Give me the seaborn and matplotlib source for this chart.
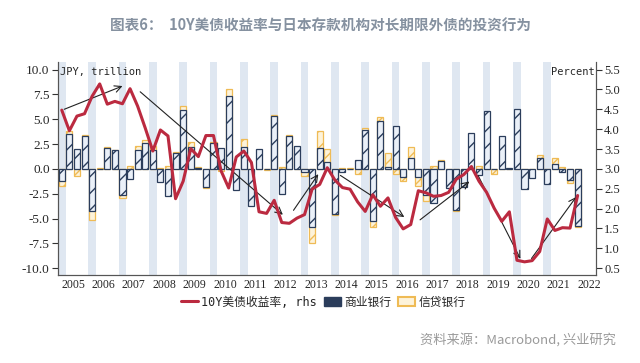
import numpy as np
import pandas as pd
import matplotlib
matplotlib.use('Agg')
import matplotlib.pyplot as plt
from matplotlib.lines import Line2D
from matplotlib.patches import Patch
import seaborn as sns

# quarterly data, 2005Q1 - 2022Q1
quarters = [f"{y}Q{q}" for y in range(2005, 2023) for q in range(1, 5)][:69]

# 商业银行 net purchases, JPY trillion
commercial = [-1.2, 3.5, 2.0, 3.3, -4.2, 0.0, 2.1, 1.9, -2.6, -1.0, 1.9, 2.6,
              1.9, -1.3, -2.7, 1.6, 5.9, 2.2, 0.1, -1.85, 2.6, 2.1, 7.3, -2.1,
              2.2, -3.7, 2.0, 0.0, 5.3, -2.5, 3.3, 2.3, -0.3, -5.9, 2.1, 0.7,
              -4.5, -0.3, 0.0, 0.9, 3.9, -5.2, 4.8, 0.2, 4.3, -0.8, 1.1, -0.85,
              -2.6, -3.4, 0.8, -1.9, -4.1, -1.8, 3.6, -0.6, 5.8, -0.05, 3.3, 0.05,
              6.0, -2.0, -0.9, 1.1, -1.5, 0.5, -0.35, -1.1, -5.7]

# 信贷银行 net purchases, JPY trillion
trust = [-0.5, 0.3, -0.7, 0.1, -0.9, 0.05, 0.1, 0.05, -0.3, 0.3, 0.4, 0.3,
         0.4, 0.1, 0.3, 0.1, 0.4, 0.5, 0.1, -0.1, 0.1, -0.2, 0.7, 0.0,
         0.8, 0.0, 0.0, -0.15, 0.1, 0.15, 0.1, 0.0, -0.4, -1.6, 1.7, 1.3,
         -0.1, 0.1, 0.05, -0.5, 0.2, -0.6, 0.4, 1.4, -0.5, -0.45, 1.1, -0.85,
         -0.6, 0.3, 0.1, 0.0, -0.1, 0.0, 0.0, 0.3, 0.0, -0.45, 0.0, 0.0,
         0.0, 0.0, 0.0, 0.3, 0.0, 0.6, 0.2, -0.35, -0.2]

# 10Y US treasury yield, percent (rhs)
ust10y = [4.48, 3.96, 4.33, 4.39, 4.83, 5.14, 4.63, 4.70, 4.64, 5.02, 4.58, 4.03,
          3.45, 3.98, 3.83, 2.25, 2.69, 3.51, 3.31, 3.84, 3.84, 2.95, 2.52, 3.30,
          3.45, 3.16, 1.92, 1.88, 2.21, 1.65, 1.63, 1.76, 1.85, 2.49, 2.61, 3.03,
          2.72, 2.53, 2.49, 2.17, 1.93, 2.35, 2.06, 2.27, 1.78, 1.49, 1.60, 2.45,
          2.40, 2.31, 2.33, 2.41, 2.74, 2.86, 3.06, 2.69, 2.41, 2.01, 1.68, 1.92,
          0.70, 0.66, 0.69, 0.92, 1.74, 1.45, 1.52, 1.51, 2.33]

year_labels = [str(y) for y in range(2005, 2023)]

# trend arrows: (year, lhs value) -> (year, lhs value)
trend_arrows = [
    ((2005.12, 5.9), (2007.21, 8.45)),
    ((2007.64, 7.95), (2012.48, -4.8)),
    ((2012.71, -4.4), (2013.63, -0.3)),
    ((2014.23, -0.5), (2016.49, -5.0)),
    ((2016.86, -5.3), (2018.63, -1.1)),
    ((2018.80, -0.4), (2020.28, -9.3)),
    ((2020.55, -9.25), (2022.13, -2.6)),
]

NAVY = '#2b3d5b'
NAVY_FACE = '#eaf0f8'
ORANGE = '#efbb55'
ORANGE_FACE = '#fdf3da'
RED = '#bb2a40'
BAND = '#dfe7f1'
SERIF = 'Liberation Serif'

df = pd.DataFrame({'quarter': quarters, 'commercial': commercial, 'trust': trust,
                   'ust10y': ust10y})
# stacked look: trust bar drawn to the running total when it has the same sign
same_sign = np.sign(df['commercial']) == np.sign(df['trust'])
df['trust_top'] = np.where(same_sign, df['commercial'] + df['trust'], df['trust'])
df['pos'] = np.arange(len(df))

sns.set_style('white')
plt.rcParams['font.family'] = [SERIF, 'Noto Sans CJK SC']
plt.rcParams['hatch.linewidth'] = 1.0

fig, ax = plt.subplots(figsize=(6.4, 3.63), dpi=100)
fig.subplots_adjust(left=0.0906, right=0.931, bottom=0.242, top=0.829)

# first quarter of every year shaded
for k in range(17):
    ax.axvspan(4 * k - 0.5, 4 * k + 0.5, color=BAND, lw=0, zorder=0)

sns.barplot(data=df, x='quarter', y='trust_top', order=quarters, ax=ax,
            color=ORANGE_FACE, saturation=1, errorbar=None, width=0.8,
            edgecolor=ORANGE, linewidth=0.9, hatch='//', zorder=2)
sns.barplot(data=df, x='quarter', y='commercial', order=quarters, ax=ax,
            color=NAVY_FACE, saturation=1, errorbar=None, width=0.8,
            edgecolor=NAVY, linewidth=0.9, hatch='//', zorder=3)

ylo, yhi = -10.7, 10.76
ax.set_ylim(ylo, yhi)
ax.set_xlim(-0.5, 70.4)
lticks = np.arange(-10, 10.01, 2.5)
ax.set_yticks(lticks)
ax.set_yticklabels([f"{v:.1f}" for v in lticks], fontsize=9.5, fontfamily=SERIF)
ax.set_xlabel('')
ax.set_ylabel('')

ax.set_xticks([4 * k - 0.5 for k in range(18)])
ax.set_xticklabels([''] * 18)
ax.set_xticks([4 * k + 1.5 for k in range(18)], minor=True)
ax.set_xticklabels(year_labels, minor=True, fontsize=8.5, fontfamily=SERIF)
ax.tick_params(axis='x', which='major', length=4, width=0.8, color='#333333')
ax.tick_params(axis='x', which='minor', length=0, pad=3)
ax.tick_params(axis='y', length=4, width=0.8, color='#333333', pad=2)

ax2 = ax.twinx()
sns.lineplot(x=df['pos'], y=df['ust10y'], ax=ax2, color=RED, linewidth=2.2,
             legend=False)
ax2.set_ylim(3 + ylo / 4, 3 + yhi / 4)
rticks = np.arange(0.5, 5.51, 0.5)
ax2.set_yticks(rticks)
ax2.set_yticklabels([f"{v:.1f}" for v in rticks], fontsize=9, fontfamily=SERIF)
ax2.set_ylabel('')
ax2.set_xlabel('')
ax2.tick_params(axis='y', length=4, width=0.8, color='#333333', pad=2)

for a in (ax, ax2):
    a.spines['top'].set_visible(False)
    for s in ('left', 'right', 'bottom'):
        a.spines[s].set_color('#555555')
        a.spines[s].set_linewidth(0.8)

# arrows
for (x0, y0), (x1, y1) in trend_arrows:
    ax.annotate('', xy=((x1 - 2005) * 4 - 0.5, y1), xytext=((x0 - 2005) * 4 - 0.5, y0),
                arrowprops=dict(arrowstyle='->', color='#222222', lw=0.8,
                                mutation_scale=12), zorder=5)

ax.text(0.004, 0.975, 'JPY, trillion', transform=ax.transAxes, ha='left', va='top',
        fontsize=7.5, family=['DejaVu Sans Mono'])
ax2.text(0.998, 0.975, 'Percent', transform=ax2.transAxes, ha='right', va='top',
         fontsize=7.5, family=['DejaVu Sans Mono'])

fig.text(0.5, 0.93, '图表6：  10Y美债收益率与日本存款机构对长期限外债的投资行为',
         ha='center', va='center', fontsize=10.5, color='#8591a0',
         fontweight='bold', family=['Noto Sans CJK SC', 'DejaVu Sans'])

handles = [Line2D([0], [0], color=RED, lw=2.2),
           Patch(facecolor=NAVY, edgecolor=NAVY),
           Patch(facecolor=ORANGE_FACE, edgecolor=ORANGE, linewidth=1.5)]
fig.legend(handles, ['10Y美债收益率, rhs', '商业银行', '信贷银行'],
           loc='center', bbox_to_anchor=(0.505, 0.168), ncol=3, frameon=False,
           prop={'family': ['DejaVu Sans Mono', 'Noto Sans CJK SC'], 'size': 8.5},
           handlelength=1.4, handletextpad=0.3, columnspacing=0.6)

fig.text(0.963, 0.063, '资料来源：Macrobond, 兴业研究', ha='right', va='center',
         fontsize=9.5, color='#9a9a9a', family=['Noto Sans CJK SC', 'DejaVu Sans'])

fig.savefig('out.png', dpi=100)
plt.close(fig)
